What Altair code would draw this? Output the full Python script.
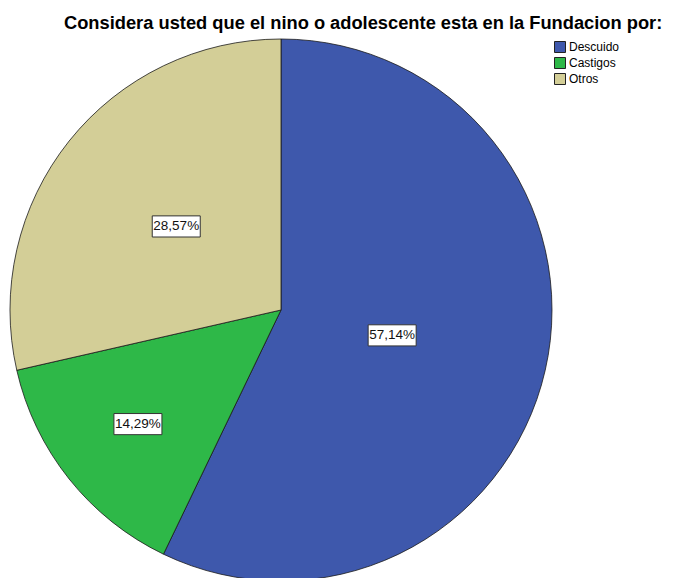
import altair as alt
import pandas as pd

# ---- data ----
categories = ["Descuido", "Castigos", "Otros"]
percents = [57.14, 14.29, 28.57]
labels = ["57,14%", "14,29%", "28,57%"]
colors = ["#3E58AC", "#2EB848", "#D3CE97"]
title_text = "Considera usted que el nino o adolescente esta en la Fundacion por:"

df = pd.DataFrame({
    "categoria": categories,
    "porcentaje": percents,
    "etiqueta": labels,
    "orden": list(range(len(categories))),
})

# ---- layout / style settings ----
W, H = 658, 530
CX, CY, R = 273, 262, 271
label_radius = {"Descuido": 114, "Castigos": 183, "Otros": 134}
rad_expr = " : ".join(
    f"datum.categoria === '{k}' ? {v}" for k, v in label_radius.items()
) + " : 130"
FONT = "Liberation Sans"

base = alt.Chart(df)

pie = base.mark_arc(radius=R, stroke="#1a1a1a", strokeWidth=0.8).encode(
    theta=alt.Theta("porcentaje:Q", stack=True),
    order=alt.Order("orden:Q"),
    color=alt.Color(
        "categoria:N",
        scale=alt.Scale(domain=categories, range=colors),
        sort=categories,
        legend=alt.Legend(
            title=None,
            orient="none",
            legendX=546,
            legendY=-7,
            symbolType="square",
            symbolSize=121,
            symbolStrokeColor="#222222",
            symbolStrokeWidth=1,
            labelFont=FONT,
            labelFontSize=12,
            labelColor="#000000",
            labelOffset=3,
            rowPadding=0,
            padding=0,
        ),
    ),
    x=alt.value(CX),
    y=alt.value(CY),
)

pos = (
    base.transform_joinaggregate(total="sum(porcentaje)")
    .transform_window(cum="sum(porcentaje)", sort=[alt.SortField("orden")], frame=[None, 0])
    .transform_calculate(
        mid="(datum.cum - datum.porcentaje/2) / datum.total * 2 * PI",
        lr=rad_expr,
    )
    .transform_calculate(
        px=f"{CX} + datum.lr * sin(datum.mid)",
        py=f"{CY} - datum.lr * cos(datum.mid)",
    )
)

boxes = pos.mark_point(
    shape="M-1,-0.44H1V0.44H-1Z",
    size=2304,
    filled=True,
    fill="white",
    stroke="#333333",
    strokeWidth=1,
    opacity=1,
).encode(
    x=alt.X("px:Q", scale=None, axis=None),
    y=alt.Y("py:Q", scale=None, axis=None),
)

texts = pos.mark_text(font=FONT, fontSize=13.5, color="#111111").encode(
    x=alt.X("px:Q", scale=None, axis=None),
    y=alt.Y("py:Q", scale=None, axis=None),
    text="etiqueta:N",
)

chart = (
    alt.layer(pie, boxes, texts)
    .properties(
        width=W,
        height=H,
        padding={"left": 0, "top": 40, "right": 0, "bottom": 0},
        autosize=alt.AutoSizeParams(type="none"),
        title=alt.TitleParams(
            title_text,
            font=FONT,
            fontSize=18.3,
            fontWeight="bold",
            color="#000000",
            anchor="start",
            frame="group",
            dx=56,
            dy=25,
            offset=15,
            baseline="alphabetic",
        ),
    )
    .configure_view(stroke=None)
)

chart.save("out.html", embed_options={"renderer": "svg", "actions": False})
